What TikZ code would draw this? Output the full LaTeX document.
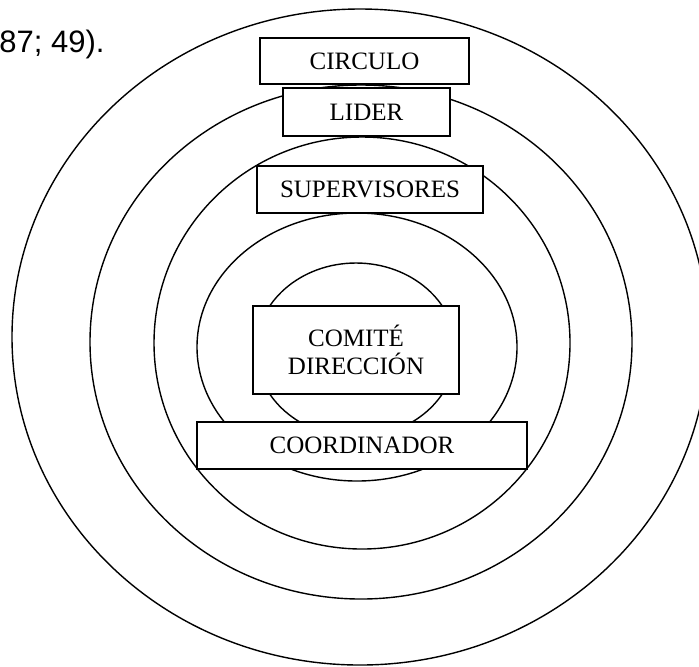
\documentclass[tikz,border=0pt]{standalone}
\usepackage{fontspec}
\setmainfont{Liberation Serif}
\newfontfamily\citefont{Liberation Sans}
\begin{document}
\begin{tikzpicture}[x=0.5pt,y=-0.5pt,
  ring/.style={draw=black,line width=0.7pt},
  rolebox/.style={draw=black,fill=white,line width=0.8pt,rectangle,inner sep=0pt,
    font=\fontsize{12.5}{14}\selectfont,align=center}]
\useasboundingbox (0,0) rectangle (699,666);

% nested rings, outermost first
\draw[ring] (360,337) ellipse [x radius=174pt, y radius=164pt];
\draw[ring] (361,342) ellipse [x radius=135.5pt, y radius=128.5pt];
\draw[ring] (362,343) ellipse [x radius=104pt, y radius=103pt];
\draw[ring] (357,347) ellipse [x radius=80pt, y radius=67pt];
\draw[ring] (356,350) ellipse [x radius=50pt, y radius=43.5pt];

% labelled boxes
\node[rolebox,minimum width=104.5pt,minimum height=23pt] (circulo) at (364.5,61) {CIRCULO};
\node[rolebox,minimum width=83.5pt,minimum height=24pt] (lider) at (366.5,112) {LIDER};
\node[rolebox,minimum width=113pt,minimum height=23.5pt] (superv) at (370,189.5) {SUPERVISORES};
\node[rolebox,minimum width=103pt,minimum height=44pt] (comite) at (356,350) {COMITÉ\\DIRECCIÓN};
\node[rolebox,minimum width=165pt,minimum height=23.5pt] (coord) at (362,445.5) {COORDINADOR};

% citation fragment at the top left
\node[anchor=base east,inner sep=0pt,font=\citefont\fontsize{15.5}{18}\selectfont] (cita) at (105,52) {87; 49).};
\end{tikzpicture}
\end{document}
